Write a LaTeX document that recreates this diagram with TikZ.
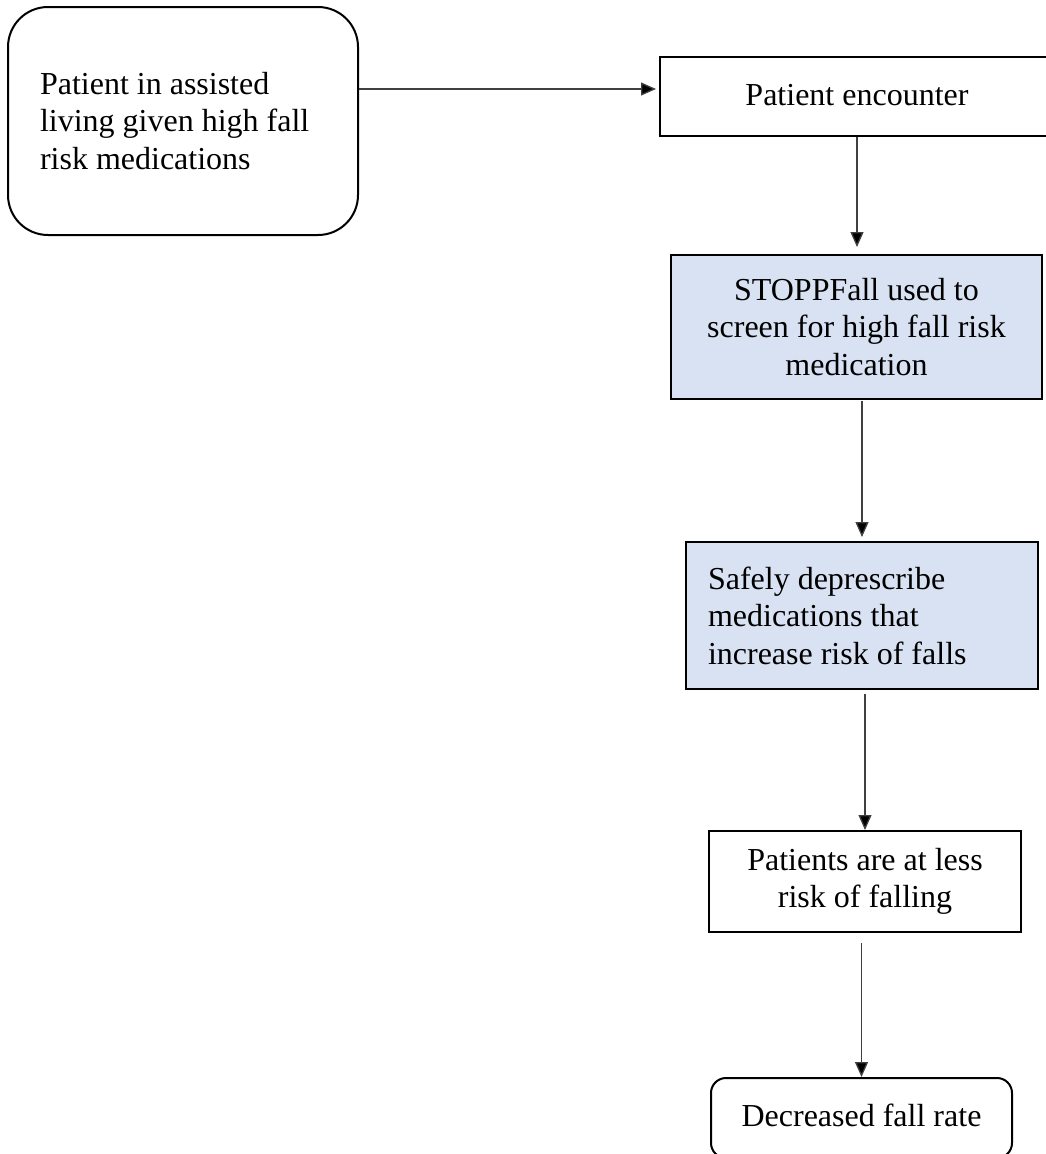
\documentclass[tikz,border=0pt]{standalone}
\usepackage{fontspec}
\setmainfont{Liberation Serif}
\usetikzlibrary{arrows.meta}
\definecolor{paleblue}{HTML}{D9E2F3}
\newcommand{\boxfont}{\fontsize{32}{37.5}\selectfont\spaceskip=8pt\relax}
\begin{document}
\begin{tikzpicture}[x=1pt,y=1pt,
  box/.style={draw=black, line width=2pt, inner sep=0pt, font=\boxfont, align=center},
  rbox/.style={box, rounded corners=40pt},
  bluebox/.style={box, fill=paleblue},
  arr/.style={draw=black!75, line width=1.3pt, -{Triangle[length=15pt,width=13pt,fill=black]}}
]
\useasboundingbox (0,0) rectangle (1045,-1154);
% nodes
\node[rbox, minimum width=350, minimum height=228, text width=286, align=flush left] (start) at (183,-121)
  {Patient in assisted\\living given high fall\\risk medications};
\node[box, minimum width=394, minimum height=79] (enc) at (857,-96.5)
  {\raisebox{3pt}{Patient encounter}};
\node[bluebox, minimum width=371, minimum height=144] (stopp) at (856.5,-327)
  {STOPPFall used to\\screen for high fall risk\\medication};
\node[bluebox, minimum width=352, minimum height=147] (depr) at (862,-615.5)
  {\raisebox{4pt}{\parbox{308pt}{\boxfont\raggedright Safely deprescribe\\medications that\\increase risk of falls}}};
\node[box, minimum width=312, minimum height=101] (less) at (865,-881.5)
  {Patients are at less\\risk of falling};
\node[box, rounded corners=15pt, minimum width=301, minimum height=80] (rate) at (861.5,-1118)
  {\raisebox{5pt}{Decreased fall rate}};
% connectors
\draw[arr, shorten >=3pt] (start.east |- 0,-89) -- (enc.west |- 0,-89);
\draw[arr, shorten >=7pt] (enc.south) -- (stopp.north -| enc.south);
\draw[arr, shorten <=1pt, shorten >=4pt] (stopp.south -| depr.north) -- (depr.north);
\draw[arr, shorten <=4pt] (depr.south -| less.north) -- (less.north);
\draw[arr, shorten <=10pt] (less.south -| rate.north) -- (rate.north);
\end{tikzpicture}
\end{document}
